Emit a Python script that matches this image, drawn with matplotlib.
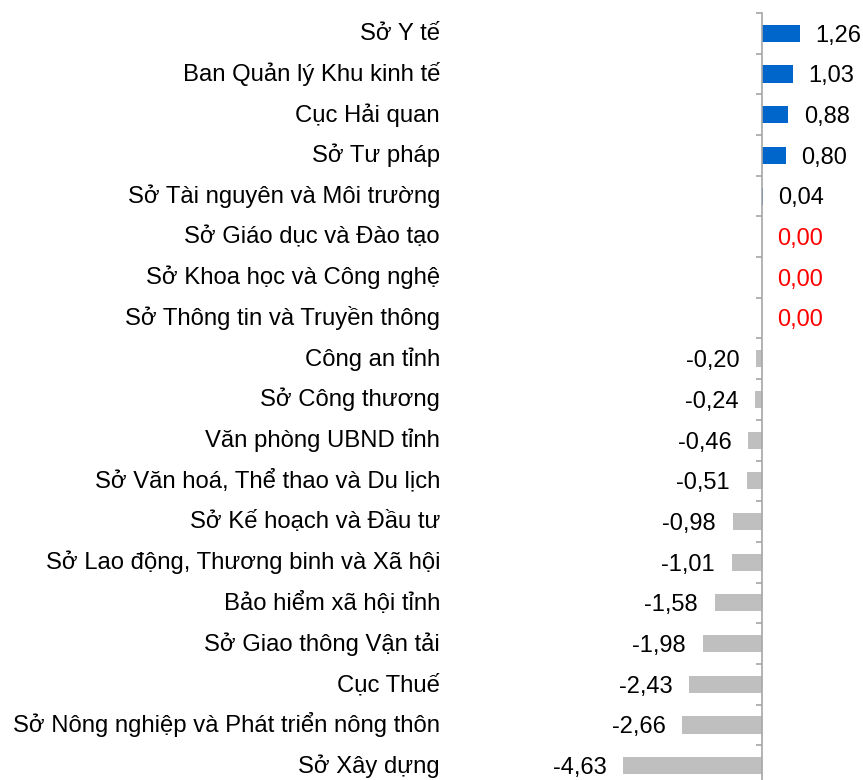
import matplotlib.pyplot as plt
from matplotlib.transforms import blended_transform_factory

plt.rcParams['font.family'] = ['Liberation Sans', 'DejaVu Sans']

# data (top to bottom)
departments = [
    "Sở Y tế", "Ban Quản lý Khu kinh tế", "Cục Hải quan", "Sở Tư pháp",
    "Sở Tài nguyên và Môi trường", "Sở Giáo dục và Đào tạo",
    "Sở Khoa học và Công nghệ", "Sở Thông tin và Truyền thông",
    "Công an tỉnh", "Sở Công thương", "Văn phòng UBND tỉnh",
    "Sở Văn hoá, Thể thao và Du lịch", "Sở Kế hoạch và Đầu tư",
    "Sở Lao động, Thương binh và Xã hội", "Bảo hiểm xã hội tỉnh",
    "Sở Giao thông Vận tải", "Cục Thuế",
    "Sở Nông nghiệp và Phát triển nông thôn", "Sở Xây dựng",
]
changes = [1.26, 1.03, 0.88, 0.80, 0.04, 0.00, 0.00, 0.00,
           -0.20, -0.24, -0.46, -0.51, -0.98, -1.01, -1.58,
           -1.98, -2.43, -2.66, -4.63]

BLUE = '#0066CC'
GREY = '#BFBFBF'

fig = plt.figure(figsize=(8.63, 7.8), dpi=100)
ax = fig.add_axes([0, -6 / 780, 1, 773 / 780])

n = len(departments)
ypos = list(range(n))
colors = [BLUE if v > 0 else GREY for v in changes]
ax.barh(ypos, changes, height=0.42, color=colors)

ax.set_xlim(-762 / 30, 101 / 30)
ax.set_ylim(n - 0.5, -0.5)

for y, v in zip(ypos, changes):
    txt = f"{abs(v):.2f}".replace('.', ',')
    if v < 0:
        ax.annotate('-' + txt, (v, y), xytext=(-12, -6), textcoords='offset points',
                    ha='right', va='baseline', fontsize=17)
    else:
        ax.annotate(txt, (v, y), xytext=(11, -6), textcoords='offset points',
                    ha='left', va='baseline', fontsize=17,
                    color='red' if v == 0 else 'black')

# category names, right aligned
trans = blended_transform_factory(ax.transAxes, ax.transData)
for y, name in zip(ypos, departments):
    ax.annotate(name, (440 / 863, y), xycoords=trans, xytext=(0, -5),
                textcoords='offset points', ha='right', va='baseline', fontsize=17.2)

# axis line at zero with ticks between categories
for s in ['top', 'right', 'bottom']:
    ax.spines[s].set_visible(False)
ax.spines['left'].set_position(('data', 0))
ax.spines['left'].set_color('#A6A6A6')
ax.spines['left'].set_linewidth(1.2)
ax.set_yticks([i - 0.5 for i in range(n + 1)])
ax.set_yticklabels([])
ax.tick_params(axis='y', direction='out', length=4.5, color='#A6A6A6', width=1.2)
ax.set_xticks([])

fig.savefig('out.png', dpi=100)
